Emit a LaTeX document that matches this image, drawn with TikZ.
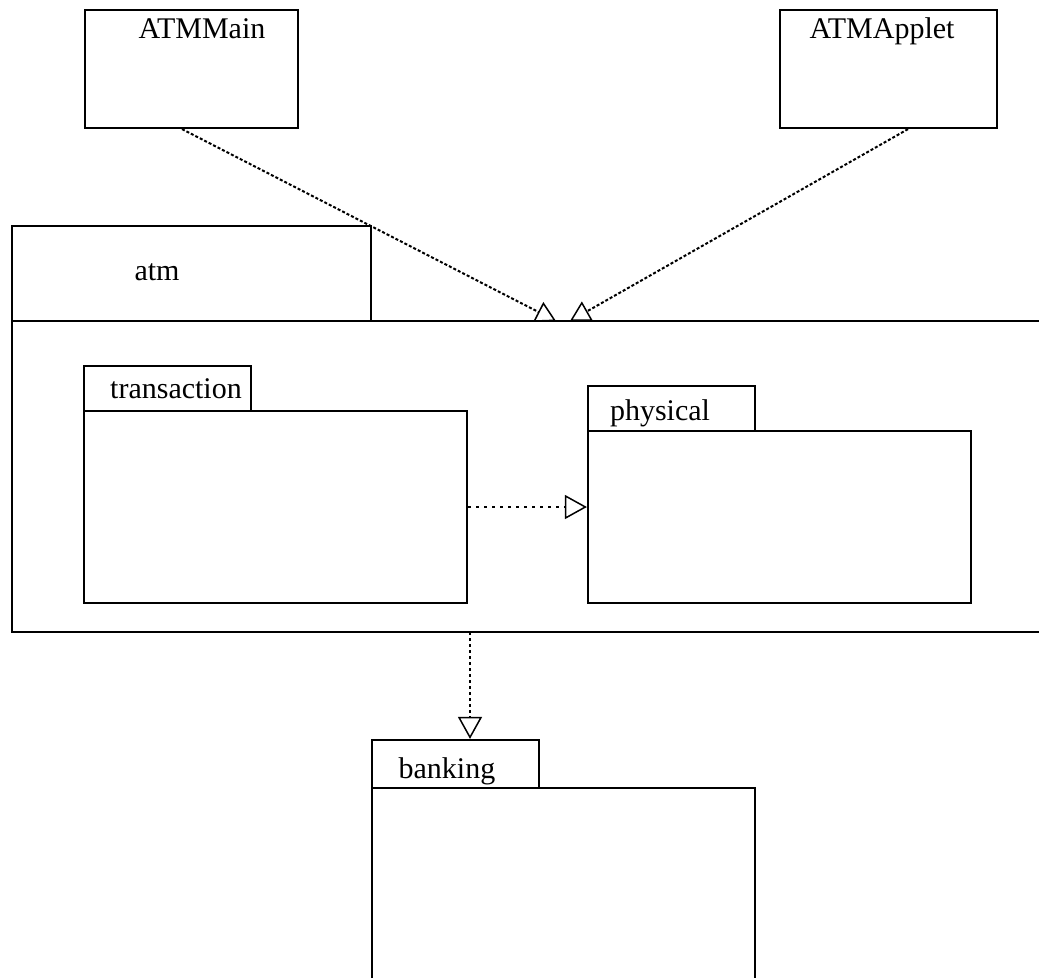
\documentclass[tikz,border=0pt]{standalone}
\usepackage{fontspec}
\setmainfont{Liberation Serif}
\usetikzlibrary{arrows.meta}
\begin{document}
\begin{tikzpicture}[x=1pt,y=-1pt,
  box/.style={draw=black,line width=2.2pt,rectangle,inner sep=0pt},
  hidden/.style={draw=none,rectangle,inner sep=0pt},
  lbl/.style={font=\fontsize{30}{34}\selectfont,inner sep=0pt,anchor=base},
  dep/.style={line width=2pt,dash pattern=on 3pt off 2pt,
    -{Triangle[open,length=20pt,width=22pt,line width=1.5pt]}},
  dep2/.style={line width=2pt,dash pattern=on 3pt off 5pt,
    -{Triangle[open,length=22pt,width=24pt,line width=1.5pt]}}]
\useasboundingbox (0,0) rectangle (1039,978);
% top classes
\node[box,minimum width=213pt,minimum height=118pt] (main) at (191.5,69) {};
\node[lbl] (mainl) at (202,38) {ATMMain};
\node[box,minimum width=217pt,minimum height=118pt] (applet) at (888.5,69) {};
\node[lbl] (appletl) at (882,38) {ATMApplet};
% atm package
\node[box,minimum width=359pt,minimum height=95pt] (atmtab) at (191.5,273.5) {};
\node[lbl] (atml) at (157,280) {atm};
\node[hidden,minimum width=1040pt,minimum height=311pt] (atm) at (532,476.5) {};
\draw[line width=2.2pt] (atm.north east) -- (atm.north west) -- (atm.south west) -- (atm.south east);
\coordinate (atmin1) at (556,321);
\coordinate (atmin2) at (570,321);
\coordinate (atmout) at (470,632);
% transaction
\node[box,minimum width=167pt,minimum height=45pt] (transtab) at (167.5,388.5) {};
\node[lbl] (transl) at (176,398) {transaction};
\node[box,minimum width=383pt,minimum height=192pt] (trans) at (275.5,507) {};
% physical
\node[box,minimum width=167pt,minimum height=45pt] (phystab) at (671.5,408.5) {};
\node[lbl] (physl) at (660,420) {physical};
\node[box,minimum width=383pt,minimum height=172pt] (phys) at (779.5,517) {};
% banking
\node[box,minimum width=167pt,minimum height=48pt] (banktab) at (455.5,764) {};
\node[lbl] (bankl) at (447,778) {banking};
\node[hidden,minimum width=383pt,minimum height=190pt] (bank) at (563.5,883) {};
\draw[line width=2.2pt] (bank.south west) -- (bank.north west) -- (bank.north east) -- (bank.south east);
% dependencies
\draw[dep] (main.south -| 182,0) -- (atmin1);
\draw[dep] (applet.south -| 908,0) -- (atmin2);
\draw[dep2] (trans.east) -- (phys.west |- trans.east);
\draw[dep2,dash pattern=on 3pt off 3pt] (atmout) -- (banktab.north -| atmout);
\end{tikzpicture}
\end{document}
